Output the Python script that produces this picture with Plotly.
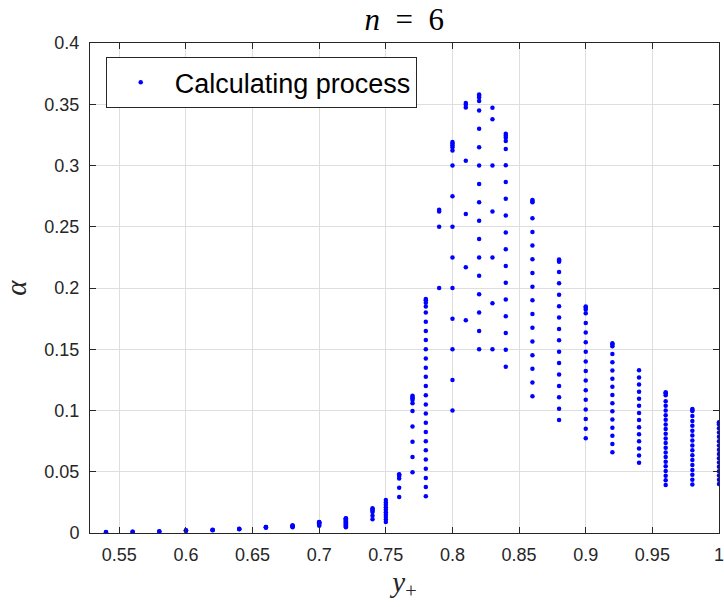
import plotly.graph_objects as go

# y+ positions of the computed columns
yplus_cols = [0.54, 0.56, 0.58, 0.60, 0.62, 0.64, 0.66, 0.68, 0.70, 0.72,
              0.74, 0.75, 0.76, 0.77, 0.78, 0.79, 0.80, 0.81, 0.82, 0.83,
              0.84, 0.86, 0.88, 0.90, 0.92, 0.94, 0.96, 0.98, 1.00]

a_054 = [0.0007, 0.0008]
a_056 = [0.0010, 0.0011]
a_058 = [0.0013, 0.0015]
a_060 = [0.0017, 0.0020, 0.0022]
a_062 = [0.0022, 0.0025, 0.0027]
a_064 = [0.0030, 0.0033, 0.0035]
a_066 = [0.0042, 0.0046, 0.0048, 0.0049]
a_068 = [0.0047, 0.0053, 0.0058, 0.0061, 0.0062]
a_070 = [0.0060, 0.0070, 0.0080, 0.0085, 0.0088, 0.0090]
a_072 = [0.0047, 0.0055, 0.0063, 0.0071, 0.0079, 0.0087, 0.0095, 0.0103,
         0.0111, 0.0115, 0.0118, 0.0120]
a_074 = [0.0112, 0.0141, 0.0171, 0.0182, 0.0192, 0.0202]
a_075 = [0.009, 0.011, 0.013, 0.015, 0.017, 0.019, 0.021, 0.023, 0.025, 0.027]
a_076 = [0.0294, 0.037, 0.0445, 0.0465, 0.0475, 0.048]
a_077 = [0.0495, 0.062, 0.0745, 0.087, 0.0995, 0.106, 0.1085, 0.110, 0.111, 0.112]
a_078 = [0.03, 0.0375, 0.045, 0.0525, 0.06, 0.0675, 0.075, 0.0825, 0.09, 0.0975,
         0.105, 0.1125, 0.12, 0.1275, 0.135, 0.1425, 0.15, 0.1575, 0.165, 0.1725,
         0.18, 0.185, 0.188, 0.19, 0.191]
a_079 = [0.2, 0.25, 0.2625, 0.2638]
a_080 = [0.1, 0.125, 0.15, 0.175, 0.2, 0.225, 0.25, 0.275, 0.3,
         0.3122, 0.3148, 0.3165, 0.318, 0.3192]
a_081 = [0.1736, 0.217, 0.2604, 0.3038, 0.3474, 0.3495, 0.351]
a_082 = [0.15, 0.165, 0.18, 0.195, 0.21, 0.225, 0.24, 0.255, 0.27, 0.285,
         0.30, 0.315, 0.33, 0.345, 0.3527, 0.3555, 0.357, 0.358]
a_083 = [0.15, 0.1875, 0.225, 0.2625, 0.30, 0.3378, 0.3472]
a_084 = [0.1358, 0.1495, 0.1632, 0.1769, 0.1906, 0.2043, 0.218, 0.2317, 0.2454,
         0.2591, 0.2728, 0.2865, 0.3002, 0.3135, 0.3200, 0.3227, 0.3243, 0.326]
a_086 = [0.1116, 0.1228, 0.134, 0.1451, 0.1563, 0.1675, 0.1787, 0.1899, 0.201,
         0.2122, 0.2234, 0.2346, 0.2458, 0.257, 0.2700, 0.2710, 0.2718]
a_088 = [0.0922, 0.1015, 0.1108, 0.1201, 0.1294, 0.1387, 0.148, 0.1573, 0.1666,
         0.1759, 0.1852, 0.1945, 0.2038, 0.2131, 0.2215, 0.2225, 0.2232]
a_090 = [0.0773, 0.0852, 0.093, 0.1009, 0.1087, 0.1166, 0.1244, 0.1323, 0.1401,
         0.148, 0.1558, 0.1637, 0.1715, 0.1794, 0.1825, 0.184, 0.185]
a_092 = [0.0659, 0.0726, 0.0793, 0.0859, 0.0926, 0.0993, 0.106, 0.1127, 0.1194,
         0.126, 0.1327, 0.1394, 0.1461, 0.1525, 0.1538, 0.1548]
a_094 = [0.0574, 0.0632, 0.069, 0.0748, 0.0806, 0.0864, 0.0922, 0.098, 0.1038,
         0.1096, 0.1154, 0.1212, 0.127, 0.1328]
a_096 = [0.0392, 0.043, 0.0468, 0.0506, 0.0544, 0.0582, 0.062, 0.0658, 0.0696,
         0.0734, 0.0772, 0.081, 0.0848, 0.0886, 0.0924, 0.0962, 0.1, 0.1038,
         0.1076, 0.1125, 0.114, 0.115]
a_098 = [0.0395, 0.0435, 0.0475, 0.0515, 0.0555, 0.0595, 0.0635, 0.0675, 0.0715,
         0.0755, 0.0795, 0.0835, 0.0875, 0.0915, 0.0955, 0.0995, 0.1005, 0.1012]
a_100 = [0.04, 0.0435, 0.047, 0.0505, 0.054, 0.0575, 0.061, 0.0645, 0.068,
         0.0715, 0.075, 0.0785, 0.082, 0.0855, 0.0888, 0.0898, 0.0905]

alpha_cols = [a_054, a_056, a_058, a_060, a_062, a_064, a_066, a_068, a_070, a_072,
              a_074, a_075, a_076, a_077, a_078, a_079, a_080, a_081, a_082, a_083,
              a_084, a_086, a_088, a_090, a_092, a_094, a_096, a_098, a_100]

x_ticks = [0.55, 0.6, 0.65, 0.7, 0.75, 0.8, 0.85, 0.9, 0.95, 1.0]
x_ticktext = ["0.55", "0.6", "0.65", "0.7", "0.75", "0.8", "0.85", "0.9", "0.95", "1"]
y_ticks = [0, 0.05, 0.1, 0.15, 0.2, 0.25, 0.3, 0.35, 0.4]
y_ticktext = ["0", "0.05", "0.1", "0.15", "0.2", "0.25", "0.3", "0.35", "0.4"]

xs, ys = [], []
for xv, col in zip(yplus_cols, alpha_cols):
    for a in col:
        xs.append(xv)
        ys.append(a)

fig = go.Figure()
fig.add_trace(go.Scatter(
    x=xs, y=ys, mode="markers", name="Calculating process",
    marker=dict(color="#0000ff", size=4.5, line=dict(width=0)),
))

axis_common = dict(
    showline=True, linecolor="#262626", linewidth=1, mirror="allticks",
    ticks="inside", ticklen=6, tickcolor="#262626", tickwidth=1,
    showgrid=True, gridcolor="#dedede", gridwidth=1, zeroline=False,
    automargin=False, ticklabeloverflow="allow",
    tickfont=dict(family="Liberation Sans, Arial", size=18, color="#262626"),
)

fig.update_layout(
    width=724, height=607,
    margin=dict(l=90, r=5, t=43, b=74, autoexpand=False),
    paper_bgcolor="white", plot_bgcolor="white",
    title=dict(text="<i>n</i>\u2002=\u20026", x=0.5585, xanchor="center",
               y=1 - 19 / 607, yanchor="middle",
               font=dict(family="Liberation Serif, Times New Roman", size=31, color="black")),
    showlegend=True,
    legend=dict(x=0.025, y=0.971, xanchor="left", yanchor="top",
                bgcolor="white", bordercolor="#262626", borderwidth=1,
                font=dict(family="Liberation Sans, Arial", size=27, color="black"),
                itemwidth=58, itemsizing="trace"),
)
fig.update_xaxes(range=[0.528, 1.0], tickvals=x_ticks, ticktext=x_ticktext,
                 ticklabelstandoff=5,
                 title=dict(text="<i>y</i><sub>+</sub>", standoff=8,
                            font=dict(family="Liberation Serif, Times New Roman", size=29, color="#262626")),
                 **axis_common)
fig.update_yaxes(range=[0, 0.4], tickvals=y_ticks, ticktext=y_ticktext,
                 ticklabelstandoff=6,
                 title=dict(text="<i>α</i>", standoff=14,
                            font=dict(family="Liberation Serif, Times New Roman", size=29, color="#262626")),
                 **axis_common)

fig.write_html("out.html", config={"displayModeBar": False},
               post_script="document.body.style.margin='0';document.body.style.overflow='hidden';")
